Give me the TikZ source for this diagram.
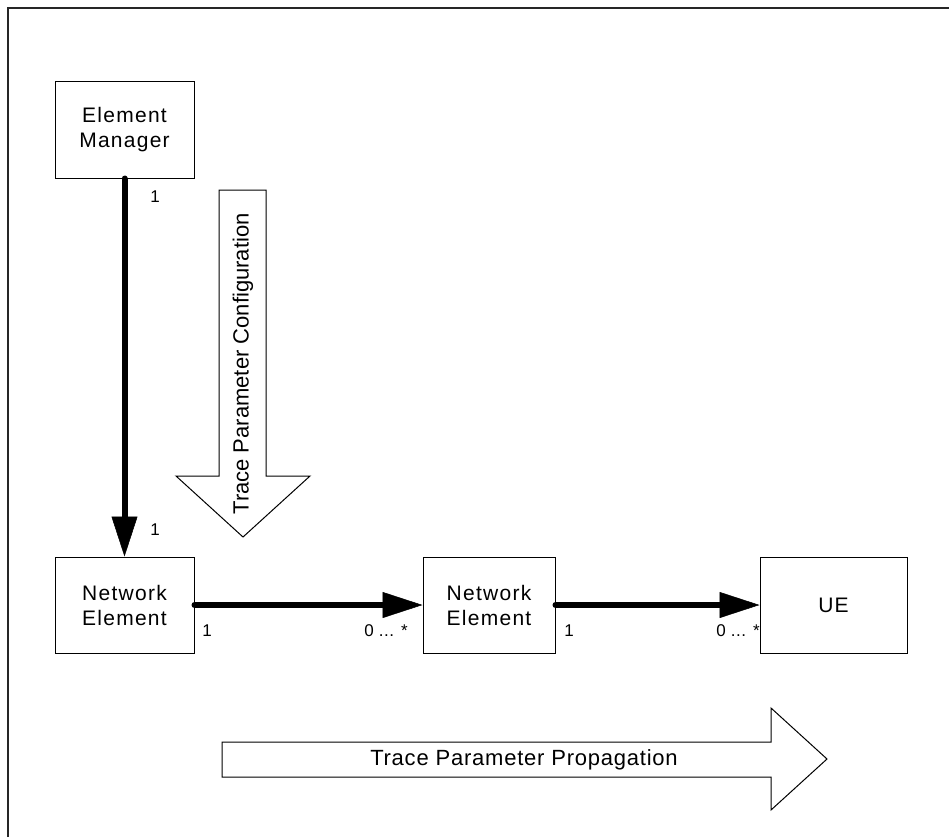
\documentclass[tikz,border=0pt]{standalone}
\usepackage{fontspec}
\setmainfont{Liberation Sans}
\usetikzlibrary{arrows.meta}
\begin{document}
\begin{tikzpicture}[x=1pt,y=-1pt,
  box/.style={draw=black,line width=1pt,inner sep=0pt,align=center,
    font=\fontsize{21}{25}\selectfont\addfontfeature{LetterSpace=6}},
  mult/.style={inner sep=0pt,font=\fontsize{17}{18}\selectfont\addfontfeature{LetterSpace=3}},
  assoc/.style={line width=6pt,line cap=round,
    -{Triangle[length=40pt 0 0,width=26pt 0 0,line width=0.5pt 0]}},
  bigarrow/.style={draw=black,line width=1pt,fill=white,line join=miter},
  bigtext/.style={inner sep=0pt,font=\fontsize{22}{26}\selectfont}]
\useasboundingbox (0,0) rectangle (949,837);
% frame
\draw[line width=2pt,black!85] (7.5,837) -- (7.5,8) -- (949,8);
% boxes
\node[box,minimum width=139pt,minimum height=96pt] (em) at (124.5,130) {Element\\Manager};
\node[box,minimum width=139pt,minimum height=96pt] (ne1) at (124.5,605) {Network\\Element};
\node[box,minimum width=132pt,minimum height=96pt] (ne2) at (489,605) {Network\\Element};
\node[box,minimum width=147pt,minimum height=96pt] (ue) at (833.5,605) {UE};
% associations
\draw[assoc] (em.south) -- (ne1.north);
\draw[assoc] (ne1.east) -- (ne2.west);
\draw[assoc] (ne2.east) -- (ue.west);
% multiplicities
\node[mult] (m1) at (155,197) {1};
\node[mult] (m2) at (155,530) {1};
\node[mult] (m3) at (207,631) {1};
\node[mult] (m4) at (386,631) {0 ... *};
\node[mult] (m5) at (569,631) {1};
\node[mult] (m6) at (738,631) {0 ... *};
% configuration arrow
\draw[bigarrow] (219,190) -- (266,190) -- (266,476) -- (310,476) -- (243,537)
  -- (176,476) -- (219,476) -- cycle;
\node[bigtext,rotate=90] (cfg) at (243,364) {Trace Parameter Configuration};
% propagation arrow
\draw[bigarrow] (222,742) -- (771,742) -- (771,708) -- (827,759) -- (771,810)
  -- (771,777) -- (222,777) -- cycle;
\node[bigtext,font=\fontsize{22}{26}\selectfont\addfontfeature{LetterSpace=3.5}] (prop) at (524,759.5) {Trace Parameter Propagation};
\end{tikzpicture}
\end{document}
